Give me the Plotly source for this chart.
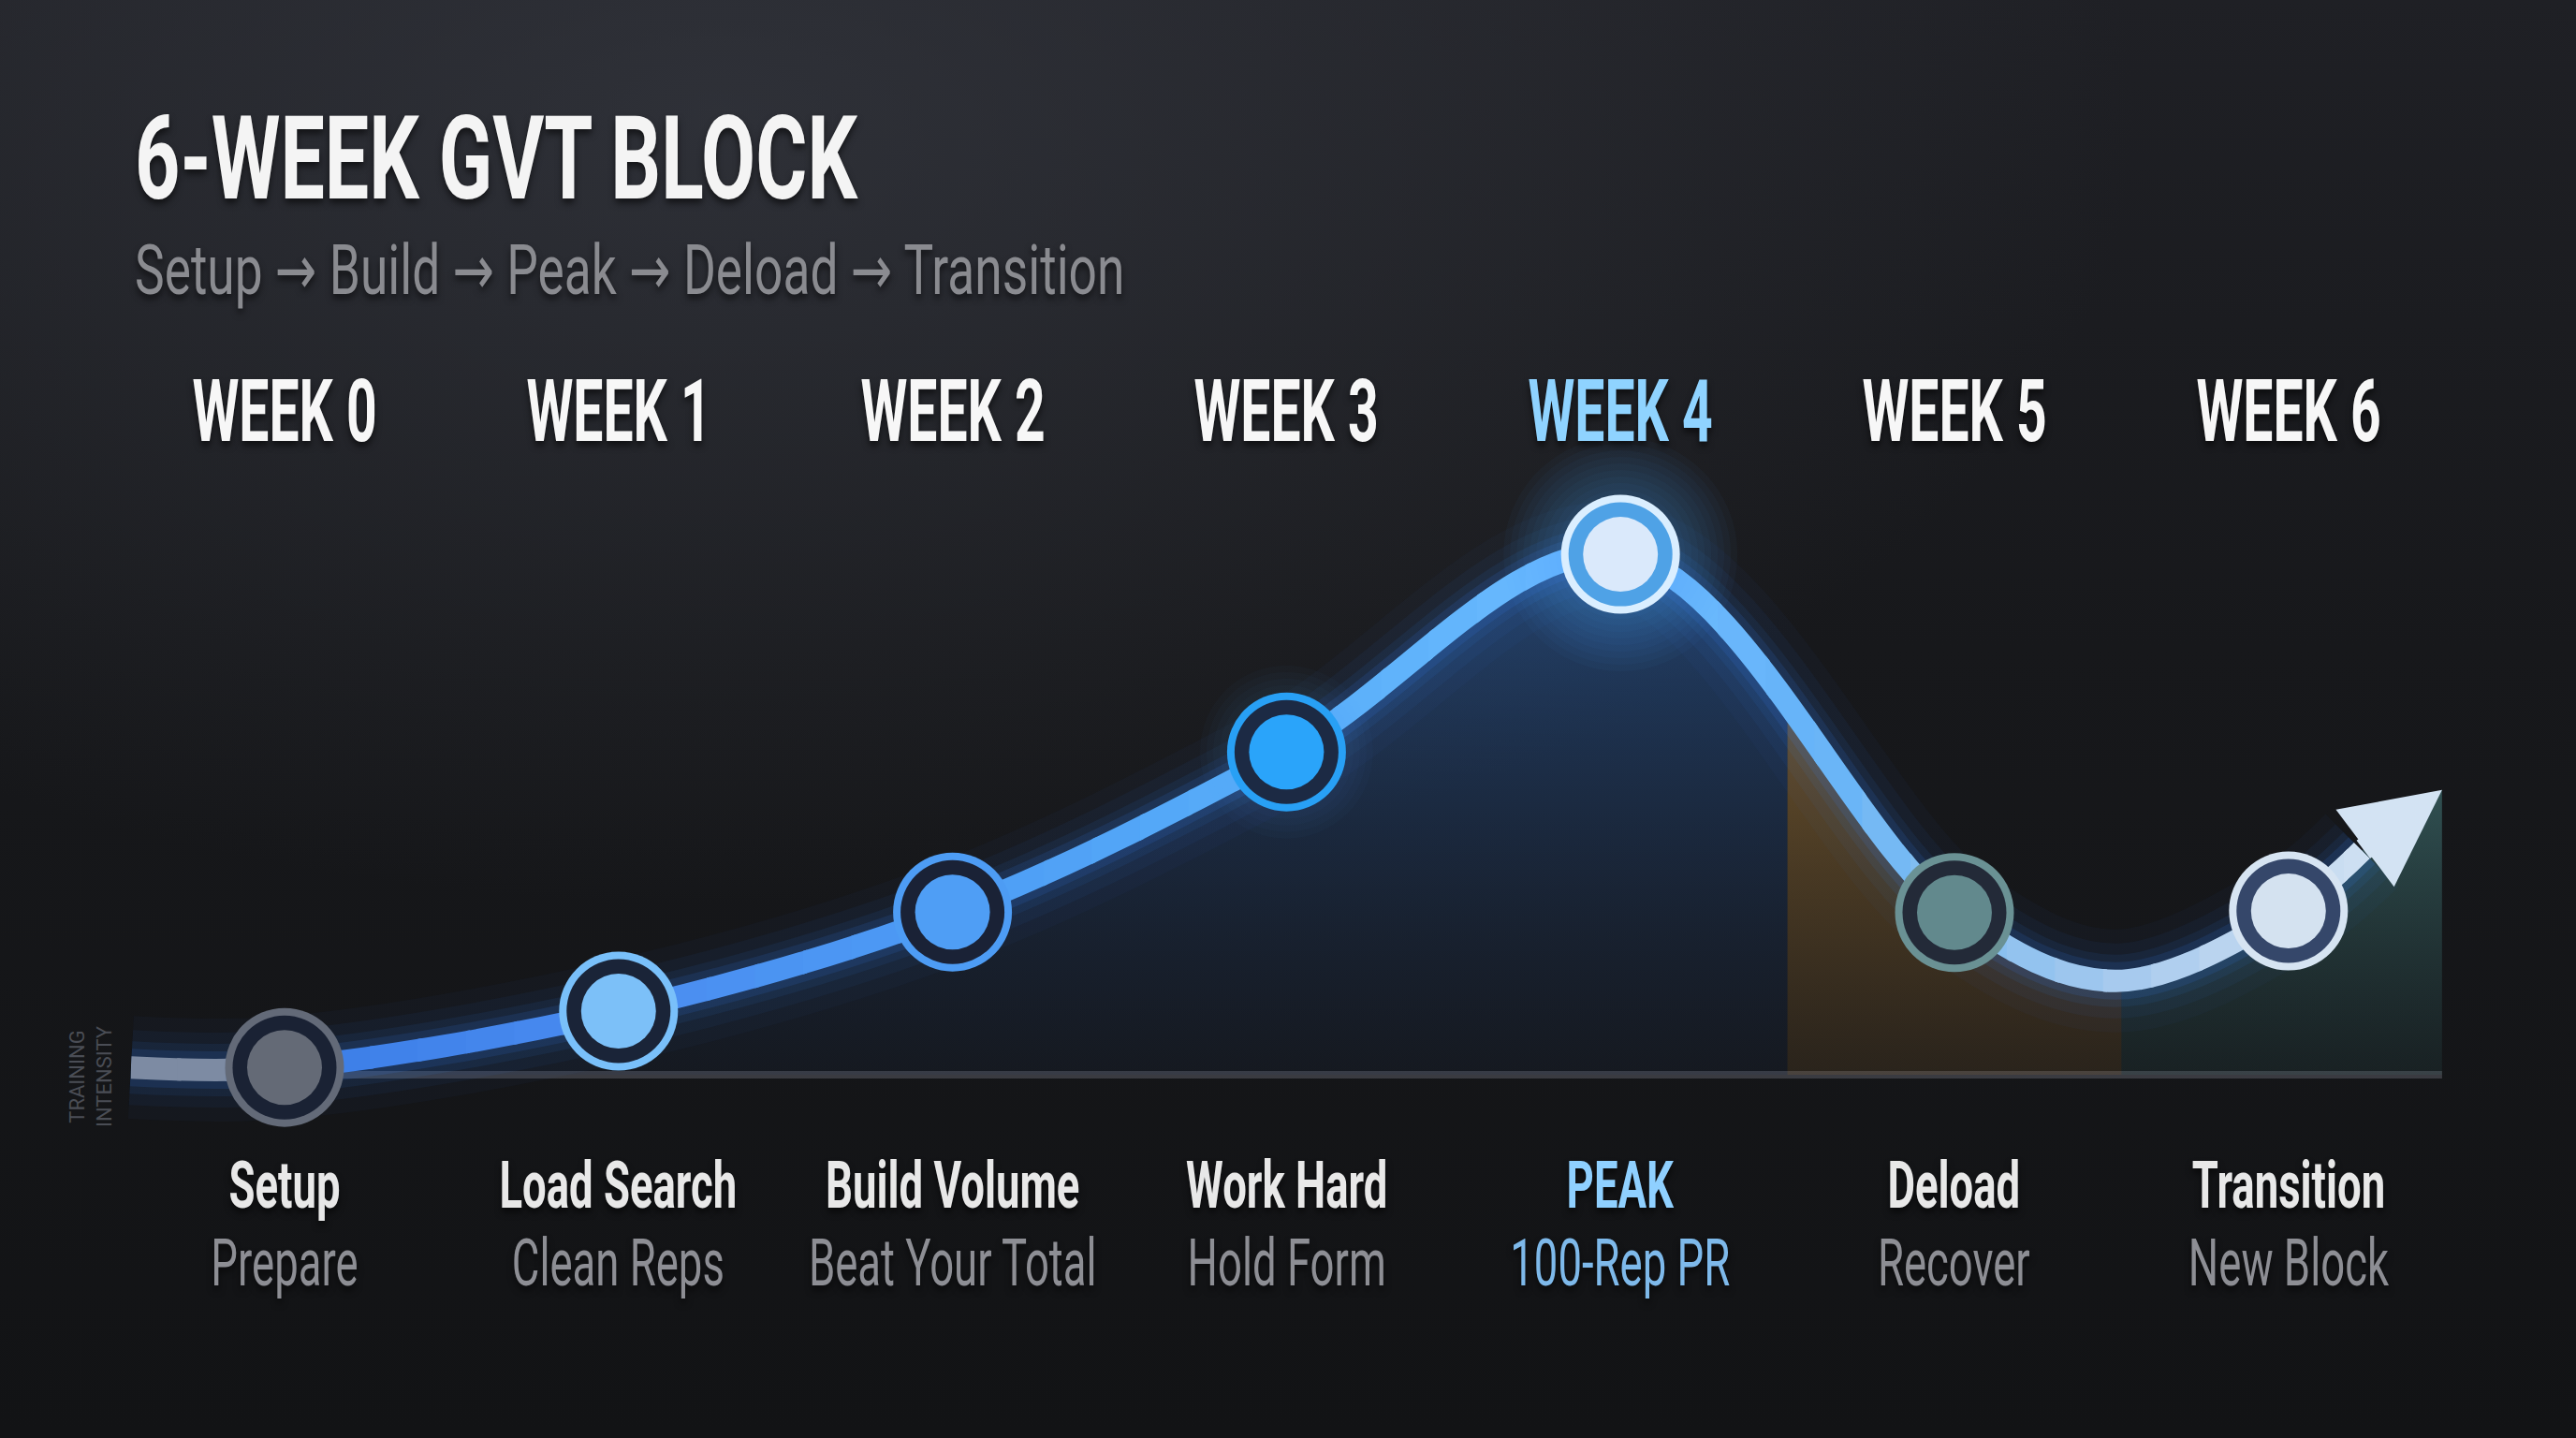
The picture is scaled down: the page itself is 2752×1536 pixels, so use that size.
import base64
import json
import plotly.graph_objects as go

# ---------------- data ----------------
weeks = [0, 1, 2, 3, 4, 5, 6]
week_labels = ["WEEK 0", "WEEK 1", "WEEK 2", "WEEK 3", "WEEK 4", "WEEK 5", "WEEK 6"]
intensity = [1.4, 12.2, 31.2, 61.9, 99.8, 31.1, 31.4]
phase_titles = ["Setup", "Load Search", "Build Volume", "Work Hard", "PEAK", "Deload", "Transition"]
phase_notes = ["Prepare", "Clean Reps", "Beat Your Total", "Hold Form", "100-Rep PR", "Recover", "New Block"]
peak_index = 4

# extra points: line start, deload trough, arrow shaft
path_x = [-0.46, 5.48, 6.22]
path_y = [1.4, 18.0, 43.0]
arrow_tip_x = 6.46
arrow_tip_y = 54.6

# shaded zones under the curve: build / deload / transition
zone_edges = [-0.46, 4.5, 5.5, 6.46]

title_text = "6-WEEK GVT BLOCK"
subtitle_text = "Setup → Build → Peak → Deload → Transition"
axis_label = "TRAINING<br>INTENSITY"

# ---------------- geometry / style ----------------
W, H = 2752, 1536
X0, X1 = -0.852, 6.861
Y0, Y1 = -69.66, 206.1
FONT = "Roboto, Liberation Sans, DejaVu Sans, sans-serif"

pts = sorted(zip(weeks + path_x, intensity + path_y))
curve_x = [p[0] for p in pts]
curve_y = [p[1] for p in pts]
fill_x = curve_x + [arrow_tip_x]
fill_y = curve_y + [arrow_tip_y]


def dom(a, b):
    return [max(0.0, (a - X0) / (X1 - X0)), min(1.0, (b - X0) / (X1 - X0))]


def hex2rgb(h):
    h = h.lstrip("#")
    return tuple(int(h[i:i + 2], 16) for i in (0, 2, 4))


# colour stops along the line
line_stops = [(-0.46, "#7d8ba3"), (-0.12, "#7d8ba3"), (0.15, "#3d7fe8"),
              (1.0, "#4a8cf0"), (2.0, "#4d9cf5"), (3.0, "#58aef9"),
              (4.0, "#6dbcff"), (4.6, "#66b3f8"), (5.0, "#84bef0"),
              (5.5, "#a5c9ee"), (6.0, "#c6dbf0"), (6.46, "#d3e3f3")]


def color_at(x):
    for (xa, ca), (xb, cb) in zip(line_stops[:-1], line_stops[1:]):
        if xa <= x <= xb:
            t = 0 if xb == xa else (x - xa) / (xb - xa)
            ra, rb = hex2rgb(ca), hex2rgb(cb)
            return tuple(round(ra[i] + (rb[i] - ra[i]) * t) for i in range(3))
    return hex2rgb(line_stops[-1][1])


fig = go.Figure()
axes = {}


def add_axis(n, a, b):
    key = "xaxis" if n == 1 else f"xaxis{n}"
    axes[key] = dict(domain=dom(a, b), range=[a, b], visible=False, anchor="y", fixedrange=True)
    return "x" if n == 1 else f"x{n}"


add_axis(1, X0, X1)
SPL = dict(shape="spline", smoothing=1.0)

# ---- zone fills (each clipped to its zone through its own axis) ----
zone_fills = [
    dict(scale=[[0, "rgba(30,60,110,0.10)"], [1, "rgba(45,105,185,0.52)"]], stop=100),
    dict(scale=[[0, "rgba(140,100,45,0.18)"], [1, "rgba(175,130,60,0.55)"]], stop=75),
    dict(scale=[[0, "rgba(50,100,100,0.15)"], [1, "rgba(80,150,150,0.45)"]], stop=55),
]
n = 2
for i, zf in enumerate(zone_fills):
    xa = add_axis(n, zone_edges[i], zone_edges[i + 1])
    fig.add_trace(go.Scatter(x=fill_x, y=fill_y, xaxis=xa, yaxis="y", mode="lines",
                             line=dict(width=0, **SPL), fill="tozeroy",
                             fillgradient=dict(type="vertical", colorscale=zf["scale"],
                                               start=0, stop=zf["stop"]),
                             hoverinfo="skip", showlegend=False))
    n += 1

# ---- soft glow under the line ----
xg = add_axis(n, X0, X1)
n += 1
for wdt, al in [(110, 0.03), (80, 0.05), (56, 0.08), (40, 0.12)]:
    fig.add_trace(go.Scatter(x=curve_x, y=curve_y, xaxis=xg, yaxis="y", mode="lines",
                             line=dict(width=wdt, color=f"rgba(55,135,255,{al})", **SPL),
                             hoverinfo="skip", showlegend=False))

# ---- gradient-coloured line (segments clipped by axes, slightly overlapping) ----
NSEG = 48
EPS = 0.006
a0, a1 = zone_edges[0], zone_edges[-1]
for k in range(NSEG):
    a = a0 + (a1 - a0) * k / NSEG
    b = a0 + (a1 - a0) * (k + 1) / NSEG
    rgb = color_at((a + b) / 2)
    xa = add_axis(n, a - (EPS if k else 0), b + EPS)
    fig.add_trace(go.Scatter(x=curve_x, y=curve_y, xaxis=xa, yaxis="y", mode="lines",
                             line=dict(width=24, color="rgb(%d,%d,%d)" % rgb, **SPL),
                             hoverinfo="skip", showlegend=False))
    n += 1

# ---- markers on a top axis ----
xt = add_axis(n, X0, X1)
halo_sets = [(peak_index, list(range(250, 125, -14)), 0.035), (3, list(range(185, 130, -14)), 0.022)]
for idx, sizes, al in halo_sets:
    for s in sizes:
        fig.add_trace(go.Scatter(x=[weeks[idx]], y=[intensity[idx]], xaxis=xt, yaxis="y", mode="markers",
                                 marker=dict(size=s, color=f"rgba(90,170,255,{al})", line=dict(width=0)),
                                 hoverinfo="skip", showlegend=False, cliponaxis=False))

ring_colors = ["#636a78", "#79c0fa", "#4d9cf4", "#28a0f5", "#daeeff", "#6a9194", "#d6e4f2"]
mid_colors = ["#1a2234", "#1a2438", "#1a2236", "#1c2a44", "#4fa2e6", "#232a38", "#35476a"]
inner_colors = ["#646a76", "#7cc0f8", "#4f9ef5", "#2aa4fa", "#dae9fb", "#62898d", "#d4e2f0"]
for size, cols in [(127, ring_colors), (111, mid_colors), (80, inner_colors)]:
    fig.add_trace(go.Scatter(x=weeks, y=intensity, xaxis=xt, yaxis="y", mode="markers",
                             marker=dict(size=size, color=cols, line=dict(width=0)),
                             hoverinfo="skip", showlegend=False, cliponaxis=False))

# ---------------- annotations ----------------
ann = []
squeeze = []  # (horizontal condense factor, anchor) per annotation
SH = "0px 4px 8px rgba(0,0,0,0.55)"


def span(text, size, color, bold=False):
    t = f"<b>{text}</b>" if bold else text
    return f'<span style="font-size:{size}px;color:{color}">{t}</span>'


ann.append(dict(text=f"<b>{title_text}</b>", xref="paper", yref="paper", x=142 / W, y=1 - 95 / H,
                xanchor="left", yanchor="top", showarrow=False,
                font=dict(family=FONT, size=124, color="#f4f4f4", shadow=SH)))
squeeze.append([0.68, "left"])
sub_html = subtitle_text.replace("→", '<span style="font-family:DejaVu Sans">→</span>')
ann.append(dict(text=sub_html, xref="paper", yref="paper", x=142 / W, y=1 - 243 / H,
                xanchor="left", yanchor="top", showarrow=False,
                font=dict(family=FONT, size=74, color="#8a8b90", shadow=SH)))
squeeze.append([0.72, "left"])

for i, w in enumerate(weeks):
    pk = i == peak_index
    ann.append(dict(text=f"<b>{week_labels[i]}</b>", xref="x", yref="paper", x=w, y=1 - 439 / H,
                    xanchor="center", yanchor="middle", showarrow=False,
                    font=dict(family=FONT, size=92, color="#8fd3ff" if pk else "#f7f7f7", shadow=SH)))
    squeeze.append([0.62, "center"])
    txt = span(phase_titles[i], 70, "#8fd0ff" if pk else "#e8e8e8", True) + "<br>" + \
        span(phase_notes[i], 70, "#7eb9ea" if pk else "#8d8e94")
    ann.append(dict(text=txt, xref="x", yref="paper", x=w, y=1 - 1223 / H,
                    xanchor="center", yanchor="top", align="center", showarrow=False,
                    font=dict(family=FONT, size=64, color="#e8e8e8", shadow=SH)))
    squeeze.append([0.65, "center"])

ann.append(dict(text=axis_label, xref="paper", yref="paper", x=97 / W, y=1 - 1150 / H,
                xanchor="center", yanchor="middle", showarrow=False, textangle=-90,
                font=dict(family=FONT, size=22, color="#4a4d55")))
squeeze.append([1, "center"])
ann.append(dict(text="", xref="x", yref="y", x=arrow_tip_x, y=arrow_tip_y,
                axref="x", ayref="y", ax=curve_x[-1], ay=curve_y[-1],
                showarrow=True, arrowhead=2, arrowsize=0.86, arrowwidth=24,
                arrowcolor="#d3e3f3", standoff=0, startstandoff=0))
squeeze.append([1, "center"])

# ---------------- background ----------------
svg = f"""<svg xmlns='http://www.w3.org/2000/svg' width='{W}' height='{H}' viewBox='0 0 {W} {H}'>
<defs>
<linearGradient id='g' x1='0' y1='0' x2='0' y2='1'>
<stop offset='0' stop-color='#1f2025'/><stop offset='0.45' stop-color='#17181b'/><stop offset='1' stop-color='#121315'/>
</linearGradient>
<radialGradient id='r' cx='0.28' cy='0.08' r='0.55'>
<stop offset='0' stop-color='#3c3f48' stop-opacity='0.55'/><stop offset='1' stop-color='#3c3f48' stop-opacity='0'/>
</radialGradient>
</defs>
<rect width='{W}' height='{H}' fill='url(#g)'/>
<rect width='{W}' height='{H}' fill='url(#r)'/>
</svg>"""
bg_uri = "data:image/svg+xml;base64," + base64.b64encode(svg.encode()).decode()

fig.update_layout(
    width=W, height=H,
    margin=dict(l=0, r=0, t=0, b=0, pad=0),
    paper_bgcolor="#151619", plot_bgcolor="rgba(0,0,0,0)",
    showlegend=False,
    yaxis=dict(domain=[0, 1], range=[Y0, Y1], visible=False, fixedrange=True),
    annotations=ann,
    shapes=[dict(type="line", xref="x", yref="y", x0=zone_edges[0], x1=zone_edges[-1], y0=0, y1=0,
                 line=dict(color="#3a3b41", width=8), layer="below")],
    images=[dict(source=bg_uri, xref="paper", yref="paper", x=0, y=1, sizex=1, sizey=1,
                 xanchor="left", yanchor="top", sizing="stretch", layer="below")],
    **axes,
)

# condense the label text horizontally (the original uses a condensed typeface)
post = """
document.body.style.margin='0';document.body.style.overflow='hidden';
var gd=document.getElementById('{plot_id}');
var SQ=%s;
function squeezeText(){
  gd.querySelectorAll('g.annotation').forEach(function(g){
    var i=+g.getAttribute('data-index'); var s=SQ[i];
    if(!s||s[0]===1) return;
    var t=g.querySelector('text.annotation-text'); if(!t) return;
    t.removeAttribute('transform');
    var b=t.getBBox();
    var cx=(s[1]==='left')?b.x:b.x+b.width/2;
    t.setAttribute('transform','translate('+cx+',0) scale('+s[0]+',1) translate('+(-cx)+',0)');
  });
}
squeezeText();
gd.on('plotly_afterplot',squeezeText);
""" % json.dumps(squeeze)

fig.write_html("out.html", config={"displayModeBar": False}, post_script=post)
